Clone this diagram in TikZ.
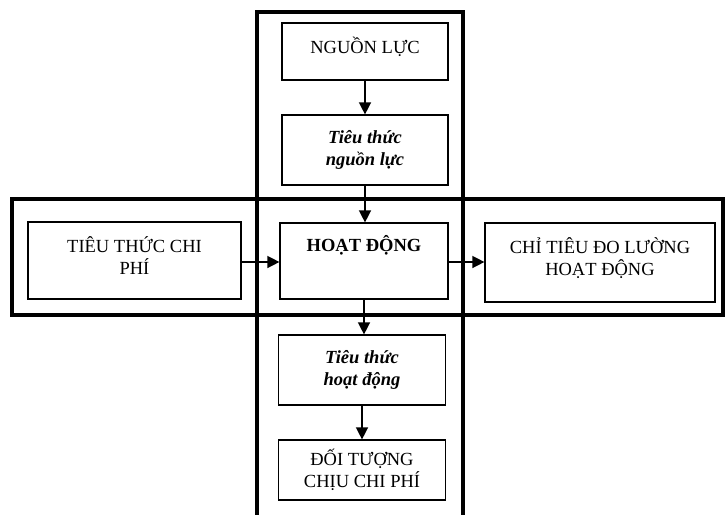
\documentclass[tikz,border=0pt]{standalone}
\usepackage{fontspec}
\setmainfont{Liberation Serif}
\usetikzlibrary{arrows.meta}
\begin{document}
\begin{tikzpicture}[x=1pt,y=-1pt,
  outer/.style={draw=black,line width=4pt},
  box/.style={draw=black,line width=1.2pt,fill=white,inner sep=0pt,align=center,
    font=\fontsize{18.5}{22}\selectfont},
  lbl/.style={align=center,inner sep=0pt,font=\fontsize{18.5}{22}\selectfont},
  arr/.style={line width=1.4pt,-{Triangle[length=12pt,width=12pt]}}]
\useasboundingbox (0,0) rectangle (728,514);
\fill[white] (0,0) rectangle (728,514);
% outer frames
\draw[outer] (257,12) rectangle (463,530);
\draw[outer] (12,199) rectangle (723,315);
% boxes
\node[box,minimum width=166pt,minimum height=57pt] (nguon) at (365,51.5) {};
\node[lbl] (nguont) at (365,47) {NGUỒN LỰC};
\node[box,minimum width=166pt,minimum height=70pt] (tt1) at (365,150) {\textbf{\textit{Tiêu thức}}\\\textbf{\textit{nguồn lực}}};
\node[box,minimum width=213pt,minimum height=77pt] (left) at (134.5,260.5) {};
\node[lbl] (leftt) at (134.5,256) {TIÊU THỨC CHI\\PHÍ};
\node[box,minimum width=168pt,minimum height=76pt] (center) at (364,261) {};
\node[lbl] (centert) at (364,245) {\textbf{HOẠT ĐỘNG}};
\node[box,minimum width=230pt,minimum height=79pt] (right) at (600,262.5) {};
\node[lbl] (rightt) at (600,258) {CHỈ TIÊU ĐO LƯỜNG\\HOẠT ĐỘNG};
\node[box,minimum width=167pt,minimum height=70pt] (tt2) at (362,370) {\textbf{\textit{Tiêu thức}}\\\textbf{\textit{hoạt động}}};
\node[box,minimum width=167pt,minimum height=60pt] (doi) at (362,470) {ĐỐI TƯỢNG\\CHỊU CHI PHÍ};
% arrows
\draw[arr] (nguon.south) -- (nguon.south |- tt1.north);
\draw[arr] (tt1.south) -- (tt1.south |- center.north);
\draw[arr] (center.south) -- (center.south |- tt2.north);
\draw[arr] (tt2.south) -- (tt2.south |- doi.north);
\draw[arr] (left.east |- 0,262) -- (center.west |- 0,262);
\draw[arr] (center.east |- 0,262) -- (right.west |- 0,262);
\end{tikzpicture}
\end{document}
